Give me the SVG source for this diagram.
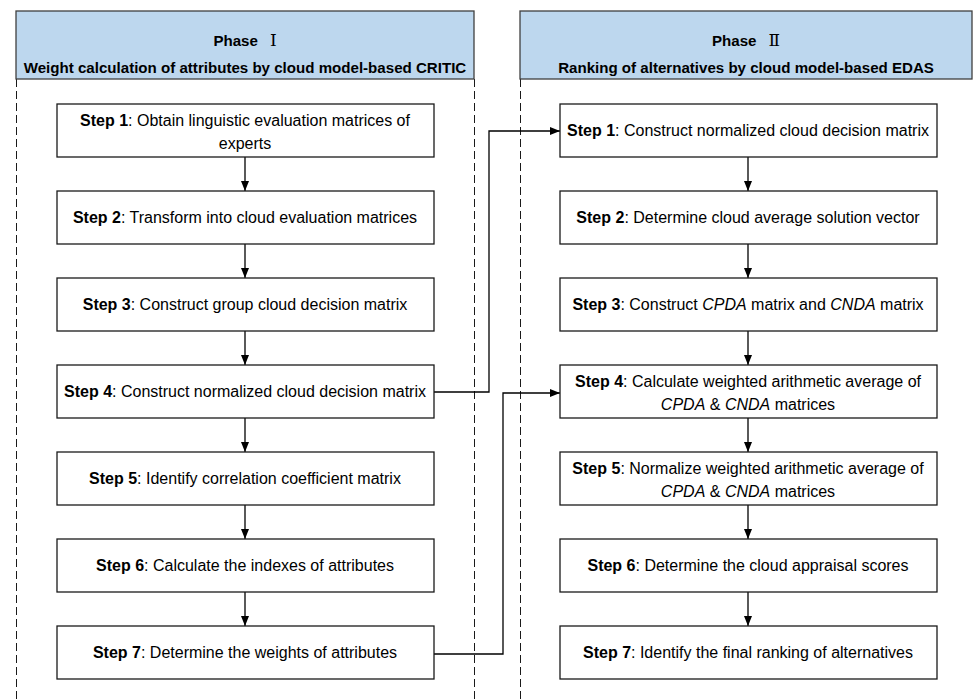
<svg xmlns="http://www.w3.org/2000/svg" width="974" height="699" viewBox="0 0 974 699">
<defs>
<marker id="arr" viewBox="0 0 10 10" refX="10" refY="5" markerWidth="10" markerHeight="10" markerUnits="userSpaceOnUse" orient="auto">
<path d="M0,1 L10,5 L0,9 Z" fill="#000"/>
</marker>
<style>
.hdr{fill:#BDD7EE;stroke:#404040;stroke-width:1.3}
.box{fill:#fff;stroke:#1a1a1a;stroke-width:1.3}
.dash{stroke:#1a1a1a;stroke-width:1;stroke-dasharray:8 4;fill:none}
.con{stroke:#000;stroke-width:1.3;fill:none}
text{font-family:"Liberation Sans",Arial,sans-serif;font-size:16px;fill:#000;text-anchor:middle}
.ht{font-weight:bold;font-size:15.1px}
.b{font-weight:bold}
.i{font-style:italic}
.rn{font-family:"DejaVu Serif","Liberation Serif",serif;font-weight:normal;font-size:17px}
</style>
</defs>
<rect width="974" height="699" fill="#fff"/>

<g id="panel1">
<line class="dash" x1="16.5" y1="79" x2="16.5" y2="699"/>
<line class="dash" x1="474.5" y1="79" x2="474.5" y2="699"/>
<rect class="hdr" x="16" y="11" width="458" height="68"/>
<text class="ht" x="245" y="46">Phase<tspan class="rn" dx="12">Ⅰ</tspan></text>
<text class="ht" x="245" y="73">Weight calculation of attributes by cloud model-based CRITIC</text>
</g>
<g id="panel2">
<line class="dash" x1="520.5" y1="79" x2="520.5" y2="699"/>
<rect class="hdr" x="520" y="11" width="452" height="68"/>
<text class="ht" x="746" y="46">Phase<tspan class="rn" dx="12">Ⅱ</tspan></text>
<text class="ht" x="746" y="73">Ranking of alternatives by cloud model-based EDAS</text>
</g>

<g id="connectors">
<line class="con" x1="245" y1="157" x2="245" y2="191" marker-end="url(#arr)"/>
<line class="con" x1="245" y1="244" x2="245" y2="278" marker-end="url(#arr)"/>
<line class="con" x1="245" y1="331" x2="245" y2="365" marker-end="url(#arr)"/>
<line class="con" x1="245" y1="418" x2="245" y2="452" marker-end="url(#arr)"/>
<line class="con" x1="245" y1="505" x2="245" y2="539" marker-end="url(#arr)"/>
<line class="con" x1="245" y1="592" x2="245" y2="626" marker-end="url(#arr)"/>
<line class="con" x1="748" y1="157" x2="748" y2="191" marker-end="url(#arr)"/>
<line class="con" x1="748" y1="244" x2="748" y2="278" marker-end="url(#arr)"/>
<line class="con" x1="748" y1="331" x2="748" y2="365" marker-end="url(#arr)"/>
<line class="con" x1="748" y1="418" x2="748" y2="452" marker-end="url(#arr)"/>
<line class="con" x1="748" y1="505" x2="748" y2="539" marker-end="url(#arr)"/>
<line class="con" x1="748" y1="592" x2="748" y2="626" marker-end="url(#arr)"/>
<polyline class="con" points="434,392 489,392 489,131 560,131" marker-end="url(#arr)"/>
<polyline class="con" points="434,654 503,654 503,393 560,393" marker-end="url(#arr)"/>
</g>

<g id="L1"><rect class="box" x="57" y="104" width="377" height="53"/>
<text x="245" y="125.5"><tspan class="b">Step 1</tspan>: Obtain linguistic evaluation matrices of</text>
<text x="245" y="148.5">experts</text></g>
<g id="L2"><rect class="box" x="57" y="191" width="377" height="53"/>
<text x="245" y="223"><tspan class="b">Step 2</tspan>: Transform into cloud evaluation matrices</text></g>
<g id="L3"><rect class="box" x="57" y="278" width="377" height="53"/>
<text x="245" y="310"><tspan class="b">Step 3</tspan>: Construct group cloud decision matrix</text></g>
<g id="L4"><rect class="box" x="57" y="365" width="377" height="53"/>
<text x="245" y="397"><tspan class="b">Step 4</tspan>: Construct normalized cloud decision matrix</text></g>
<g id="L5"><rect class="box" x="57" y="452" width="377" height="53"/>
<text x="245" y="484"><tspan class="b">Step 5</tspan>: Identify correlation coefficient matrix</text></g>
<g id="L6"><rect class="box" x="57" y="539" width="377" height="53"/>
<text x="245" y="571"><tspan class="b">Step 6</tspan>: Calculate the indexes of attributes</text></g>
<g id="L7"><rect class="box" x="57" y="626" width="377" height="53"/>
<text x="245" y="658"><tspan class="b">Step 7</tspan>: Determine the weights of attributes</text></g>

<g id="R1"><rect class="box" x="560" y="104" width="377" height="53"/>
<text x="748" y="136"><tspan class="b">Step 1</tspan>: Construct normalized cloud decision matrix</text></g>
<g id="R2"><rect class="box" x="560" y="191" width="377" height="53"/>
<text x="748" y="223"><tspan class="b">Step 2</tspan>: Determine cloud average solution vector</text></g>
<g id="R3"><rect class="box" x="560" y="278" width="377" height="53"/>
<text x="748" y="310"><tspan class="b">Step 3</tspan>: Construct <tspan class="i">CPDA</tspan> matrix and <tspan class="i">CNDA</tspan> matrix</text></g>
<g id="R4"><rect class="box" x="560" y="365" width="377" height="53"/>
<text x="748" y="386.5"><tspan class="b">Step 4</tspan>: Calculate weighted arithmetic average of</text>
<text x="748" y="409.5"><tspan class="i">CPDA</tspan> &amp; <tspan class="i">CNDA</tspan> matrices</text></g>
<g id="R5"><rect class="box" x="560" y="452" width="377" height="53"/>
<text x="748" y="473.5"><tspan class="b">Step 5</tspan>: Normalize weighted arithmetic average of</text>
<text x="748" y="496.5"><tspan class="i">CPDA</tspan> &amp; <tspan class="i">CNDA</tspan> matrices</text></g>
<g id="R6"><rect class="box" x="560" y="539" width="377" height="53"/>
<text x="748" y="571"><tspan class="b">Step 6</tspan>: Determine the cloud appraisal scores</text></g>
<g id="R7"><rect class="box" x="560" y="626" width="377" height="53"/>
<text x="748" y="658"><tspan class="b">Step 7</tspan>: Identify the final ranking of alternatives</text></g>
</svg>
